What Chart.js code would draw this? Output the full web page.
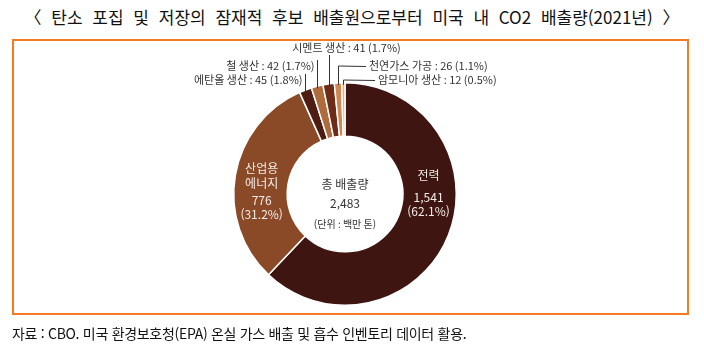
<!DOCTYPE html>
<html lang="ko">
<head>
<meta charset="utf-8">
<title>미국 내 CO2 배출량(2021년)</title>
<script src="https://cdn.jsdelivr.net/npm/chart.js@4/dist/chart.umd.min.js"></script>
<style>
  html, body { margin: 0; padding: 0; background: #fff; }
  body { width: 704px; height: 346px; position: relative; overflow: hidden;
         font-family: "Noto Sans CJK KR", "Noto Sans", sans-serif; color: #111; }
  #title { position: absolute; left: 0; top: 5px; width: 704px; text-align: center;
           font-size: 17px; line-height: 24px; word-spacing: 5px; }
  #box { position: absolute; left: 12px; top: 39px; width: 677px; height: 276px;
         border: 2px solid #f47b22; box-sizing: border-box; }
  #source { position: absolute; left: 12px; top: 322px; font-size: 14px; line-height: 22px;
            letter-spacing: -0.3px; color: #111; }
  #wrap { position: absolute; left: 0; top: 0; width: 704px; height: 346px; }
</style>
</head>
<body>
<div id="title">〈 탄소 포집 및 저장의 잠재적 후보 배출원으로부터 미국 내 CO2 배출량(2021년) 〉</div>
<div id="box"></div>
<div id="wrap"><canvas id="myChart"></canvas></div>
<div id="source">자료 : CBO. 미국 환경보호청(EPA) 온실 가스 배출 및 흡수 인벤토리 데이터 활용.</div>
<script>
const sources = ['전력', '산업용 에너지', '에탄올 생산', '철 생산', '시멘트 생산', '천연가스 가공', '암모니아 생산'];
const emissions = [1541, 776, 45, 42, 41, 26, 12];
const shares = [62.1, 31.2, 1.8, 1.7, 1.7, 1.1, 0.5];
const totalEmission = 2483;
const sliceColors = ['#3e1511', '#8a4a27', '#4e1c10', '#b06b3c', '#6c2c17', '#cf8650', '#e0b184'];

const fmt = v => v.toLocaleString('en-US');

// callouts for the thin slices at the top: where the leader bends and where the text goes
const callouts = {
  2: { bendY: 74, text: { x: -3, y: 80, align: 'right' } },
  3: { bendY: 60, text: { x: -3, y: 66, align: 'right' } },
  4: { bendY: 55, text: { x: 17, y: 48, align: 'center' } },
  5: { bendY: 66, endX: 366, text: { x: 369, y: 66, align: 'left' } },
  6: { bendY: 80, endX: 375, text: { x: 378, y: 80, align: 'left' } }
};

const sliceText = {
  id: 'sliceText',
  afterDatasetsDraw(chart) {
    const ctx = chart.ctx;
    const arcs = chart.getDatasetMeta(0).data;
    const cx = arcs[0].x, cy = arcs[0].y;
    ctx.save();
    ctx.textBaseline = 'middle';

    // big slices: text inside the ring
    ctx.fillStyle = '#f4ece8';
    ctx.textAlign = 'center';
    ctx.font = '12px "Noto Sans CJK KR"';
    const p0 = arcs[0].tooltipPosition();
    ctx.fillText(sources[0], p0.x + 5, 175);
    ctx.fillText(fmt(emissions[0]), p0.x + 5, 197);
    ctx.fillText('(' + shares[0].toFixed(1) + '%)', p0.x + 5, 211);
    const p1 = arcs[1].tooltipPosition();
    const [w1, w2] = sources[1].split(' ');
    ctx.fillText(w1, p1.x, 168);
    ctx.fillText(w2, p1.x, 183);
    ctx.fillText(fmt(emissions[1]), p1.x, 200);
    ctx.fillText('(' + shares[1].toFixed(1) + '%)', p1.x, 214);

    // total in the hole
    ctx.fillStyle = '#333';
    ctx.font = '12px "Noto Sans CJK KR"';
    ctx.fillText('총 배출량', cx, cy - 10);
    ctx.fillText(fmt(totalEmission), cx, cy + 9);
    ctx.font = '10px "Noto Sans CJK KR"';
    ctx.fillText('(단위 : 백만 톤)', cx, cy + 30);

    // small slices: leader lines and labels
    ctx.strokeStyle = '#333';
    ctx.lineWidth = 1;
    ctx.font = '11px "Noto Sans CJK KR"';
    Object.keys(callouts).forEach(k => {
      const i = +k;
      const c = callouts[i];
      const a = arcs[i];
      const mid = (a.startAngle + a.endAngle) / 2;
      const x = Math.round(a.x + Math.cos(mid) * a.outerRadius) + 0.5;
      const y = a.y + Math.sin(mid) * a.outerRadius + 2;
      ctx.beginPath();
      ctx.moveTo(x, y);
      ctx.lineTo(x, c.bendY);
      if (c.endX) ctx.lineTo(c.endX, c.bendY + 0.5);
      ctx.stroke();
      const label = sources[i] + ' : ' + emissions[i] + ' (' + shares[i].toFixed(1) + '%)';
      ctx.textAlign = c.text.align;
      const tx = c.text.align === 'left' ? c.text.x : x + c.text.x;
      ctx.fillText(label, tx, c.text.y);
    });
    ctx.restore();
  }
};

const myChart = new Chart(document.getElementById('myChart'), {
  type: 'doughnut',
  data: {
    labels: sources,
    datasets: [{
      data: emissions,
      backgroundColor: sliceColors,
      borderColor: '#ffffff',
      borderWidth: 1.5
    }]
  },
  options: {
    responsive: true,
    maintainAspectRatio: false,
    animation: false,
    cutout: '52%',
    layout: { padding: { left: 233, right: 247, top: 82, bottom: 40 } },
    plugins: {
      legend: { display: false },
      tooltip: { enabled: false }
    }
  },
  plugins: [sliceText]
});
</script>
</body>
</html>
